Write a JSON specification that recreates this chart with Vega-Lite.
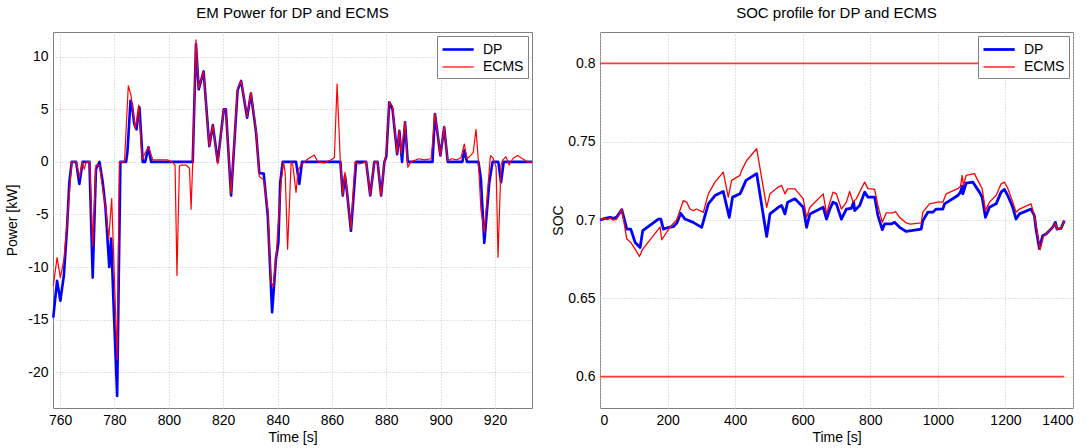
{
"$schema": "https://vega.github.io/schema/vega-lite/v6.json",
"background": "white",
"config": {
 "font": "Liberation Sans",
 "view": {"stroke": "#7f7f7f", "strokeWidth": 1},
 "axis": {"domain": false, "ticks": false, "labelFontSize": 14, "titleFontSize": 14, "labelColor": "#000", "titleColor": "#000", "titleFontWeight": "normal", "gridColor": "#c4c4c4", "gridDash": [1, 2], "gridWidth": 1, "labelPadding": 5},
 "title": {"fontSize": 15, "fontWeight": "normal", "color": "#000", "frame": "group", "offset": 11},
 "legend": {"orient": "top-right", "offset": 4, "strokeColor": "#7f7f7f", "fillColor": "#ffffff", "padding": 4, "labelFontSize": 14, "labelColor": "#000", "symbolType": "M-1,0H2.9", "symbolSize": 256, "rowPadding": 1, "labelOffset": 23}
},
"datasets": {
 "pw": [
  {"t":757.5,"p":-14.8,"s":"DP"},{"t":758.9,"p":-11.3,"s":"DP"},{"t":760.1,"p":-13.2,"s":"DP"},{"t":761.4,"p":-10.8,"s":"DP"},{"t":762.6,"p":-6.1,"s":"DP"},{"t":763.4,"p":-1.95,"s":"DP"},{"t":764.3,"p":0,"s":"DP"},{"t":765.9,"p":0,"s":"DP"},{"t":767.1,"p":-2.1,"s":"DP"},{"t":768.3,"p":0,"s":"DP"},{"t":770.8,"p":0,"s":"DP"},{"t":772.0,"p":-11,"s":"DP"},{"t":773.2,"p":-0.7,"s":"DP"},{"t":774.5,"p":0,"s":"DP"},{"t":775.7,"p":-1.95,"s":"DP"},{"t":776.7,"p":-4.3,"s":"DP"},{"t":778.1,"p":-10.0,"s":"DP"},{"t":778.8,"p":-7.3,"s":"DP"},{"t":779.7,"p":-13.7,"s":"DP"},{"t":781.0,"p":-22.25,"s":"DP"},{"t":781.6,"p":-10.9,"s":"DP"},{"t":782.2,"p":0,"s":"DP"},{"t":784.3,"p":0,"s":"DP"},{"t":784.8,"p":1,"s":"DP"},{"t":785.9,"p":5.8,"s":"DP"},{"t":786.4,"p":5.5,"s":"DP"},{"t":787.3,"p":3.6,"s":"DP"},{"t":788.1,"p":3.1,"s":"DP"},{"t":789.2,"p":5.2,"s":"DP"},{"t":790.4,"p":0,"s":"DP"},{"t":791.3,"p":0,"s":"DP"},{"t":792.5,"p":1.4,"s":"DP"},{"t":793.5,"p":0,"s":"DP"},{"t":808.8,"p":0,"s":"DP"},{"t":810.0,"p":11.2,"s":"DP"},{"t":811.0,"p":6.9,"s":"DP"},{"t":812.8,"p":8.6,"s":"DP"},{"t":814.9,"p":1.5,"s":"DP"},{"t":816.2,"p":3.5,"s":"DP"},{"t":818.0,"p":0,"s":"DP"},{"t":820.2,"p":5,"s":"DP"},{"t":821.0,"p":5,"s":"DP"},{"t":822.9,"p":-3.2,"s":"DP"},{"t":825.3,"p":6.8,"s":"DP"},{"t":826.6,"p":7.7,"s":"DP"},{"t":828.8,"p":4.2,"s":"DP"},{"t":830.2,"p":6.5,"s":"DP"},{"t":832.1,"p":2.8,"s":"DP"},{"t":833.3,"p":-1.07,"s":"DP"},{"t":834.9,"p":-1.1,"s":"DP"},{"t":836.4,"p":-5.1,"s":"DP"},{"t":838.0,"p":-14.3,"s":"DP"},{"t":839.4,"p":-9.25,"s":"DP"},{"t":840.3,"p":-7.7,"s":"DP"},{"t":841.0,"p":-1.95,"s":"DP"},{"t":841.9,"p":0,"s":"DP"},{"t":846.8,"p":0,"s":"DP"},{"t":848.0,"p":-2.1,"s":"DP"},{"t":849.0,"p":0,"s":"DP"},{"t":863.1,"p":0,"s":"DP"},{"t":864.0,"p":-3.2,"s":"DP"},{"t":864.8,"p":-1.3,"s":"DP"},{"t":865.6,"p":-3.0,"s":"DP"},{"t":867.0,"p":-6.55,"s":"DP"},{"t":868.9,"p":0,"s":"DP"},{"t":872.6,"p":0,"s":"DP"},{"t":874.1,"p":-3.2,"s":"DP"},{"t":875.6,"p":0,"s":"DP"},{"t":876.8,"p":0,"s":"DP"},{"t":878.1,"p":-3.2,"s":"DP"},{"t":879.3,"p":0,"s":"DP"},{"t":880.0,"p":0.5,"s":"DP"},{"t":881.1,"p":5.66,"s":"DP"},{"t":882.3,"p":5.0,"s":"DP"},{"t":884.0,"p":0.74,"s":"DP"},{"t":884.8,"p":2.96,"s":"DP"},{"t":885.8,"p":0,"s":"DP"},{"t":886.9,"p":3.76,"s":"DP"},{"t":887.9,"p":0,"s":"DP"},{"t":897.0,"p":0,"s":"DP"},{"t":897.9,"p":4.55,"s":"DP"},{"t":899.9,"p":0.6,"s":"DP"},{"t":901.3,"p":3.28,"s":"DP"},{"t":902.6,"p":0,"s":"DP"},{"t":908.0,"p":0,"s":"DP"},{"t":908.7,"p":1.1,"s":"DP"},{"t":909.7,"p":0,"s":"DP"},{"t":913.9,"p":0,"s":"DP"},{"t":914.8,"p":-1.6,"s":"DP"},{"t":916.05,"p":-7.7,"s":"DP"},{"t":917.9,"p":-1.95,"s":"DP"},{"t":919.1,"p":0,"s":"DP"},{"t":921.2,"p":0,"s":"DP"},{"t":922.2,"p":-1.95,"s":"DP"},{"t":923.2,"p":0,"s":"DP"},{"t":933.6,"p":0,"s":"DP"},
  {"t":757.5,"p":-11.8,"s":"ECMS"},{"t":758.9,"p":-9.1,"s":"ECMS"},{"t":760.1,"p":-11,"s":"ECMS"},{"t":761.4,"p":-9.3,"s":"ECMS"},{"t":762.6,"p":-5.8,"s":"ECMS"},{"t":764.3,"p":0,"s":"ECMS"},{"t":765.9,"p":0,"s":"ECMS"},{"t":767.1,"p":-1.5,"s":"ECMS"},{"t":768.1,"p":0,"s":"ECMS"},{"t":768.9,"p":-0.7,"s":"ECMS"},{"t":769.6,"p":0,"s":"ECMS"},{"t":770.9,"p":0,"s":"ECMS"},{"t":772.0,"p":-8.0,"s":"ECMS"},{"t":773.2,"p":-0.3,"s":"ECMS"},{"t":774.5,"p":-0.3,"s":"ECMS"},{"t":775.7,"p":-2.6,"s":"ECMS"},{"t":776.9,"p":-4.5,"s":"ECMS"},{"t":777.9,"p":-7.3,"s":"ECMS"},{"t":779.0,"p":-3.5,"s":"ECMS"},{"t":781.0,"p":-18.8,"s":"ECMS"},{"t":781.8,"p":0,"s":"ECMS"},{"t":783.7,"p":0,"s":"ECMS"},{"t":785.1,"p":7.24,"s":"ECMS"},{"t":786.1,"p":6.3,"s":"ECMS"},{"t":787.7,"p":3.1,"s":"ECMS"},{"t":788.9,"p":5.4,"s":"ECMS"},{"t":790.2,"p":0.27,"s":"ECMS"},{"t":792.5,"p":1.47,"s":"ECMS"},{"t":794.1,"p":0.2,"s":"ECMS"},{"t":799.5,"p":0.2,"s":"ECMS"},{"t":801.4,"p":-0.05,"s":"ECMS"},{"t":802.3,"p":-0.3,"s":"ECMS"},{"t":803.0,"p":-10.8,"s":"ECMS"},{"t":803.9,"p":-0.4,"s":"ECMS"},{"t":804.5,"p":-0.3,"s":"ECMS"},{"t":806.3,"p":-0.3,"s":"ECMS"},{"t":807.6,"p":-0.6,"s":"ECMS"},{"t":808.2,"p":-4.5,"s":"ECMS"},{"t":808.8,"p":0,"s":"ECMS"},{"t":810.0,"p":11.6,"s":"ECMS"},{"t":811.0,"p":7,"s":"ECMS"},{"t":812.8,"p":8.6,"s":"ECMS"},{"t":814.9,"p":1.5,"s":"ECMS"},{"t":816.2,"p":3.5,"s":"ECMS"},{"t":818.0,"p":-0.2,"s":"ECMS"},{"t":820.2,"p":5,"s":"ECMS"},{"t":821.0,"p":5,"s":"ECMS"},{"t":822.9,"p":-3.0,"s":"ECMS"},{"t":825.3,"p":7.0,"s":"ECMS"},{"t":826.6,"p":7.7,"s":"ECMS"},{"t":828.8,"p":4.3,"s":"ECMS"},{"t":830.2,"p":6.6,"s":"ECMS"},{"t":832.1,"p":3.0,"s":"ECMS"},{"t":833.3,"p":-1.4,"s":"ECMS"},{"t":834.9,"p":-1.7,"s":"ECMS"},{"t":836.4,"p":-4.5,"s":"ECMS"},{"t":837.6,"p":-11.5,"s":"ECMS"},{"t":838.4,"p":-11.8,"s":"ECMS"},{"t":839.4,"p":-9.2,"s":"ECMS"},{"t":841.3,"p":-1.95,"s":"ECMS"},{"t":842.2,"p":0,"s":"ECMS"},{"t":842.8,"p":-1,"s":"ECMS"},{"t":843.7,"p":-8.3,"s":"ECMS"},{"t":845.0,"p":0,"s":"ECMS"},{"t":845.6,"p":-0.3,"s":"ECMS"},{"t":846.8,"p":-2.9,"s":"ECMS"},{"t":847.6,"p":-0.8,"s":"ECMS"},{"t":848.6,"p":-0.3,"s":"ECMS"},{"t":851.1,"p":0.27,"s":"ECMS"},{"t":853.5,"p":0.65,"s":"ECMS"},{"t":854.8,"p":0,"s":"ECMS"},{"t":857.2,"p":-0.1,"s":"ECMS"},{"t":859.7,"p":0.2,"s":"ECMS"},{"t":860.9,"p":0.4,"s":"ECMS"},{"t":861.9,"p":7.4,"s":"ECMS"},{"t":863.1,"p":0,"s":"ECMS"},{"t":864.0,"p":-3.2,"s":"ECMS"},{"t":864.8,"p":-1.0,"s":"ECMS"},{"t":865.6,"p":-2.9,"s":"ECMS"},{"t":867.0,"p":-6.4,"s":"ECMS"},{"t":868.5,"p":0,"s":"ECMS"},{"t":870.0,"p":-0.2,"s":"ECMS"},{"t":872.6,"p":0,"s":"ECMS"},{"t":874.1,"p":-3.2,"s":"ECMS"},{"t":875.6,"p":0,"s":"ECMS"},{"t":876.8,"p":0,"s":"ECMS"},{"t":878.1,"p":-3.2,"s":"ECMS"},{"t":879.3,"p":0,"s":"ECMS"},{"t":880.0,"p":0.8,"s":"ECMS"},{"t":881.1,"p":5.7,"s":"ECMS"},{"t":882.3,"p":5.3,"s":"ECMS"},{"t":884.0,"p":0.8,"s":"ECMS"},{"t":884.8,"p":3.0,"s":"ECMS"},{"t":885.5,"p":0.8,"s":"ECMS"},{"t":886.9,"p":3.8,"s":"ECMS"},{"t":887.9,"p":-0.5,"s":"ECMS"},{"t":889.0,"p":0,"s":"ECMS"},{"t":892.0,"p":0.3,"s":"ECMS"},{"t":894.0,"p":0.2,"s":"ECMS"},{"t":896.5,"p":0.3,"s":"ECMS"},{"t":897.9,"p":4.6,"s":"ECMS"},{"t":899.9,"p":0.6,"s":"ECMS"},{"t":901.3,"p":3.4,"s":"ECMS"},{"t":902.6,"p":0.1,"s":"ECMS"},{"t":904.0,"p":0.3,"s":"ECMS"},{"t":906.0,"p":0.2,"s":"ECMS"},{"t":907.5,"p":0.4,"s":"ECMS"},{"t":908.7,"p":1.7,"s":"ECMS"},{"t":909.7,"p":0.3,"s":"ECMS"},{"t":911.0,"p":0.6,"s":"ECMS"},{"t":912.0,"p":0.9,"s":"ECMS"},{"t":913.0,"p":3.1,"s":"ECMS"},{"t":913.9,"p":0,"s":"ECMS"},{"t":914.8,"p":-4.5,"s":"ECMS"},{"t":916.05,"p":-6.7,"s":"ECMS"},{"t":917.9,"p":-0.7,"s":"ECMS"},{"t":918.3,"p":0.6,"s":"ECMS"},{"t":919.2,"p":0.4,"s":"ECMS"},{"t":920.4,"p":-0.5,"s":"ECMS"},{"t":921.1,"p":-9.06,"s":"ECMS"},{"t":922.2,"p":-0.3,"s":"ECMS"},{"t":922.8,"p":0.15,"s":"ECMS"},{"t":924.0,"p":0.5,"s":"ECMS"},{"t":925.2,"p":-0.3,"s":"ECMS"},{"t":926.5,"p":0.3,"s":"ECMS"},{"t":928.3,"p":0.6,"s":"ECMS"},{"t":930.1,"p":0.3,"s":"ECMS"},{"t":932.0,"p":0,"s":"ECMS"},{"t":933.6,"p":0,"s":"ECMS"}
 ],
 "soc": [
  {"t":0,"v":0.700,"s":"DP"},{"t":15,"v":0.701,"s":"DP"},{"t":30,"v":0.7017,"s":"DP"},{"t":40,"v":0.701,"s":"DP"},{"t":50,"v":0.702,"s":"DP"},{"t":64.5,"v":0.7066,"s":"DP"},{"t":79.3,"v":0.6942,"s":"DP"},{"t":91,"v":0.6942,"s":"DP"},{"t":104,"v":0.6857,"s":"DP"},{"t":118.7,"v":0.6825,"s":"DP"},{"t":126.5,"v":0.6932,"s":"DP"},{"t":172.8,"v":0.7006,"s":"DP"},{"t":180,"v":0.7006,"s":"DP"},{"t":187.6,"v":0.6942,"s":"DP"},{"t":197.5,"v":0.6949,"s":"DP"},{"t":217,"v":0.6957,"s":"DP"},{"t":227,"v":0.698,"s":"DP"},{"t":238.8,"v":0.7042,"s":"DP"},{"t":251.6,"v":0.7006,"s":"DP"},{"t":276,"v":0.6985,"s":"DP"},{"t":300.9,"v":0.6953,"s":"DP"},{"t":320.6,"v":0.7103,"s":"DP"},{"t":340.3,"v":0.7156,"s":"DP"},{"t":364.9,"v":0.7182,"s":"DP"},{"t":382.7,"v":0.7017,"s":"DP"},{"t":392.4,"v":0.7146,"s":"DP"},{"t":414.4,"v":0.7167,"s":"DP"},{"t":419.3,"v":0.7189,"s":"DP"},{"t":432.1,"v":0.7253,"s":"DP"},{"t":463.7,"v":0.7296,"s":"DP"},{"t":493.3,"v":0.6895,"s":"DP"},{"t":503.1,"v":0.7039,"s":"DP"},{"t":527.7,"v":0.7081,"s":"DP"},{"t":537.6,"v":0.7092,"s":"DP"},{"t":547.4,"v":0.7039,"s":"DP"},{"t":555.3,"v":0.7113,"s":"DP"},{"t":576.9,"v":0.7135,"s":"DP"},{"t":601.6,"v":0.7081,"s":"DP"},{"t":611.4,"v":0.6953,"s":"DP"},{"t":621.3,"v":0.7039,"s":"DP"},{"t":660.7,"v":0.7081,"s":"DP"},{"t":670.5,"v":0.7006,"s":"DP"},{"t":680.4,"v":0.707,"s":"DP"},{"t":689.8,"v":0.7114,"s":"DP"},{"t":699.6,"v":0.7103,"s":"DP"},{"t":714.4,"v":0.7006,"s":"DP"},{"t":729.2,"v":0.707,"s":"DP"},{"t":744,"v":0.7075,"s":"DP"},{"t":750.8,"v":0.7114,"s":"DP"},{"t":753.8,"v":0.706,"s":"DP"},{"t":768.6,"v":0.7092,"s":"DP"},{"t":783.3,"v":0.7178,"s":"DP"},{"t":793.2,"v":0.7146,"s":"DP"},{"t":812.9,"v":0.7146,"s":"DP"},{"t":822.7,"v":0.7028,"s":"DP"},{"t":835.5,"v":0.6938,"s":"DP"},{"t":842.4,"v":0.6975,"s":"DP"},{"t":862,"v":0.6975,"s":"DP"},{"t":871.9,"v":0.6985,"s":"DP"},{"t":886.7,"v":0.6953,"s":"DP"},{"t":906.4,"v":0.6927,"s":"DP"},{"t":950.7,"v":0.6942,"s":"DP"},{"t":955.6,"v":0.6996,"s":"DP"},{"t":970.4,"v":0.705,"s":"DP"},{"t":985.2,"v":0.705,"s":"DP"},{"t":995,"v":0.707,"s":"DP"},{"t":1014.8,"v":0.707,"s":"DP"},{"t":1019.7,"v":0.7103,"s":"DP"},{"t":1059,"v":0.7156,"s":"DP"},{"t":1067,"v":0.7178,"s":"DP"},{"t":1071.9,"v":0.7216,"s":"DP"},{"t":1073.9,"v":0.7167,"s":"DP"},{"t":1083.7,"v":0.7236,"s":"DP"},{"t":1103.4,"v":0.7242,"s":"DP"},{"t":1113.3,"v":0.721,"s":"DP"},{"t":1123.1,"v":0.7178,"s":"DP"},{"t":1131,"v":0.7146,"s":"DP"},{"t":1140.9,"v":0.7017,"s":"DP"},{"t":1152.7,"v":0.7081,"s":"DP"},{"t":1172.4,"v":0.7103,"s":"DP"},{"t":1187.2,"v":0.7178,"s":"DP"},{"t":1197,"v":0.7195,"s":"DP"},{"t":1206.9,"v":0.7156,"s":"DP"},{"t":1221.7,"v":0.7081,"s":"DP"},{"t":1231.5,"v":0.7006,"s":"DP"},{"t":1241.4,"v":0.7039,"s":"DP"},{"t":1275.9,"v":0.707,"s":"DP"},{"t":1285.7,"v":0.7028,"s":"DP"},{"t":1290.6,"v":0.6942,"s":"DP"},{"t":1300.5,"v":0.6818,"s":"DP"},{"t":1310.3,"v":0.69,"s":"DP"},{"t":1320.2,"v":0.691,"s":"DP"},{"t":1339.9,"v":0.6953,"s":"DP"},{"t":1347.7,"v":0.6985,"s":"DP"},{"t":1352.6,"v":0.6942,"s":"DP"},{"t":1364.4,"v":0.6946,"s":"DP"},{"t":1374.3,"v":0.6996,"s":"DP"},
  {"t":0,"v":0.700,"s":"ECMS"},{"t":12,"v":0.7012,"s":"ECMS"},{"t":22,"v":0.7002,"s":"ECMS"},{"t":30,"v":0.7012,"s":"ECMS"},{"t":38,"v":0.7,"s":"ECMS"},{"t":49.7,"v":0.7006,"s":"ECMS"},{"t":64.5,"v":0.707,"s":"ECMS"},{"t":79.3,"v":0.6878,"s":"ECMS"},{"t":91,"v":0.6857,"s":"ECMS"},{"t":104,"v":0.6814,"s":"ECMS"},{"t":116.7,"v":0.6767,"s":"ECMS"},{"t":126.5,"v":0.6814,"s":"ECMS"},{"t":177.7,"v":0.6955,"s":"ECMS"},{"t":182.7,"v":0.6874,"s":"ECMS"},{"t":207.3,"v":0.6955,"s":"ECMS"},{"t":227,"v":0.7,"s":"ECMS"},{"t":246.7,"v":0.7124,"s":"ECMS"},{"t":256.5,"v":0.7114,"s":"ECMS"},{"t":266.4,"v":0.707,"s":"ECMS"},{"t":276.2,"v":0.706,"s":"ECMS"},{"t":286.1,"v":0.707,"s":"ECMS"},{"t":305.8,"v":0.7049,"s":"ECMS"},{"t":320.6,"v":0.7167,"s":"ECMS"},{"t":340.3,"v":0.7242,"s":"ECMS"},{"t":364.9,"v":0.7306,"s":"ECMS"},{"t":379.7,"v":0.7146,"s":"ECMS"},{"t":389.6,"v":0.7253,"s":"ECMS"},{"t":414.4,"v":0.7285,"s":"ECMS"},{"t":419.3,"v":0.7317,"s":"ECMS"},{"t":434.1,"v":0.738,"s":"ECMS"},{"t":463.7,"v":0.7455,"s":"ECMS"},{"t":493.3,"v":0.7081,"s":"ECMS"},{"t":503.1,"v":0.7167,"s":"ECMS"},{"t":527.7,"v":0.721,"s":"ECMS"},{"t":537.6,"v":0.7221,"s":"ECMS"},{"t":547.4,"v":0.7167,"s":"ECMS"},{"t":555.3,"v":0.7199,"s":"ECMS"},{"t":576.9,"v":0.7199,"s":"ECMS"},{"t":601.6,"v":0.7135,"s":"ECMS"},{"t":611.4,"v":0.7017,"s":"ECMS"},{"t":621.3,"v":0.7081,"s":"ECMS"},{"t":660.7,"v":0.7167,"s":"ECMS"},{"t":670.5,"v":0.7039,"s":"ECMS"},{"t":680.4,"v":0.7113,"s":"ECMS"},{"t":689.8,"v":0.7178,"s":"ECMS"},{"t":699.6,"v":0.7167,"s":"ECMS"},{"t":714.4,"v":0.707,"s":"ECMS"},{"t":729.2,"v":0.7114,"s":"ECMS"},{"t":739,"v":0.7182,"s":"ECMS"},{"t":748.8,"v":0.7114,"s":"ECMS"},{"t":758.7,"v":0.7135,"s":"ECMS"},{"t":773.4,"v":0.72,"s":"ECMS"},{"t":783.3,"v":0.7242,"s":"ECMS"},{"t":793.2,"v":0.72,"s":"ECMS"},{"t":812.9,"v":0.7195,"s":"ECMS"},{"t":822.7,"v":0.7092,"s":"ECMS"},{"t":835.5,"v":0.6985,"s":"ECMS"},{"t":847.3,"v":0.7045,"s":"ECMS"},{"t":867,"v":0.7045,"s":"ECMS"},{"t":874.9,"v":0.7054,"s":"ECMS"},{"t":886.7,"v":0.7017,"s":"ECMS"},{"t":906.4,"v":0.6981,"s":"ECMS"},{"t":918.2,"v":0.6974,"s":"ECMS"},{"t":950.7,"v":0.6981,"s":"ECMS"},{"t":955.6,"v":0.705,"s":"ECMS"},{"t":975.3,"v":0.7103,"s":"ECMS"},{"t":990,"v":0.711,"s":"ECMS"},{"t":999.9,"v":0.7114,"s":"ECMS"},{"t":1014.8,"v":0.7114,"s":"ECMS"},{"t":1024.6,"v":0.7167,"s":"ECMS"},{"t":1059,"v":0.72,"s":"ECMS"},{"t":1067,"v":0.7216,"s":"ECMS"},{"t":1071.9,"v":0.7285,"s":"ECMS"},{"t":1075.8,"v":0.722,"s":"ECMS"},{"t":1083.7,"v":0.7285,"s":"ECMS"},{"t":1108.3,"v":0.7296,"s":"ECMS"},{"t":1118.2,"v":0.7253,"s":"ECMS"},{"t":1131,"v":0.72,"s":"ECMS"},{"t":1140.9,"v":0.706,"s":"ECMS"},{"t":1152.7,"v":0.7114,"s":"ECMS"},{"t":1172.4,"v":0.7156,"s":"ECMS"},{"t":1187.2,"v":0.7231,"s":"ECMS"},{"t":1197,"v":0.7242,"s":"ECMS"},{"t":1206.9,"v":0.7203,"s":"ECMS"},{"t":1221.7,"v":0.7114,"s":"ECMS"},{"t":1231.5,"v":0.705,"s":"ECMS"},{"t":1241.4,"v":0.707,"s":"ECMS"},{"t":1275.9,"v":0.7103,"s":"ECMS"},{"t":1285.7,"v":0.7028,"s":"ECMS"},{"t":1292.6,"v":0.6942,"s":"ECMS"},{"t":1302.4,"v":0.681,"s":"ECMS"},{"t":1312.3,"v":0.6896,"s":"ECMS"},{"t":1320.2,"v":0.691,"s":"ECMS"},{"t":1339.9,"v":0.6953,"s":"ECMS"},{"t":1347.7,"v":0.698,"s":"ECMS"},{"t":1352.6,"v":0.6942,"s":"ECMS"},{"t":1364.4,"v":0.6946,"s":"ECMS"},{"t":1374.3,"v":0.6996,"s":"ECMS"}
 ],
 "bounds": [
  {"t":0,"v":0.8,"b":"max"},{"t":1374,"v":0.8,"b":"max"},{"t":0,"v":0.6,"b":"min"},{"t":1374,"v":0.6,"b":"min"}
 ]
},
"spacing": 17,
"resolve": {"scale": {"color": "independent", "strokeWidth": "independent"}, "legend": {"color": "independent", "strokeWidth": "independent"}},
"hconcat": [
 {
  "title": "EM Power for DP and ECMS",
  "width": 479, "height": 376,
  "data": {"name": "pw"},
  "encoding": {
   "x": {"field": "t", "type": "quantitative", "scale": {"domain": [757.4, 933.6], "nice": false, "zero": false}, "axis": {"values": [760,780,800,820,840,860,880,900,920], "title": "Time [s]", "titlePadding": 3, "labelExpr": "'' + datum.value"}},
   "y": {"field": "p", "type": "quantitative", "scale": {"domain": [-23.4, 12.35], "nice": false, "zero": false}, "axis": {"values": [-20,-15,-10,-5,0,5,10], "title": "Power [kW]", "titlePadding": 8, "labelExpr": "'' + datum.value"}},
   "color": {"field": "s", "type": "nominal", "scale": {"domain": ["DP","ECMS"], "range": ["#0000ff","#ff0000"]}, "legend": {"title": null}},
   "strokeWidth": {"field": "s", "type": "nominal", "scale": {"domain": ["DP","ECMS"], "range": [2.6, 1.2]}, "legend": {"title": null}}
  },
  "layer": [
   {"transform": [{"filter": "datum.s == 'DP'"}], "mark": {"type": "line", "strokeJoin": "round"}},
   {"transform": [{"filter": "datum.s == 'ECMS'"}], "mark": {"type": "line", "strokeJoin": "round"}}
  ]
 },
 {
  "title": "SOC profile for DP and ECMS",
  "width": 473, "height": 376,
  "data": {"name": "soc"},
  "encoding": {
   "x": {"field": "t", "type": "quantitative", "scale": {"domain": [0, 1400], "nice": false, "zero": false}, "axis": {"values": [0,200,400,600,800,1000,1200,1400], "title": "Time [s]", "titlePadding": 3, "labelExpr": "'' + datum.value"}},
   "y": {"field": "v", "type": "quantitative", "scale": {"domain": [0.58, 0.82], "nice": false, "zero": false}, "axis": {"values": [0.6,0.65,0.7,0.75,0.8], "title": "SOC", "titlePadding": 2, "labelExpr": "'' + datum.value"}}
  },
  "layer": [
   {"data": {"name": "bounds"}, "mark": {"type": "line", "color": "#ff3a3a", "strokeWidth": 1.8}, "encoding": {"detail": {"field": "b", "type": "nominal"}}},
   {"transform": [{"filter": "datum.s == 'DP'"}], "mark": {"type": "line", "strokeJoin": "round"},
    "encoding": {
     "color": {"field": "s", "type": "nominal", "scale": {"domain": ["DP","ECMS"], "range": ["#0000ff","#ff0000"]}, "legend": {"title": null}},
     "strokeWidth": {"field": "s", "type": "nominal", "scale": {"domain": ["DP","ECMS"], "range": [2.8, 1.3]}, "legend": {"title": null}}
    }},
   {"transform": [{"filter": "datum.s == 'ECMS'"}], "mark": {"type": "line", "strokeJoin": "round"},
    "encoding": {
     "color": {"field": "s", "type": "nominal", "scale": {"domain": ["DP","ECMS"], "range": ["#0000ff","#ff0000"]}, "legend": {"title": null}},
     "strokeWidth": {"field": "s", "type": "nominal", "scale": {"domain": ["DP","ECMS"], "range": [2.8, 1.3]}, "legend": {"title": null}}
    }}
  ]
 }
]
}
